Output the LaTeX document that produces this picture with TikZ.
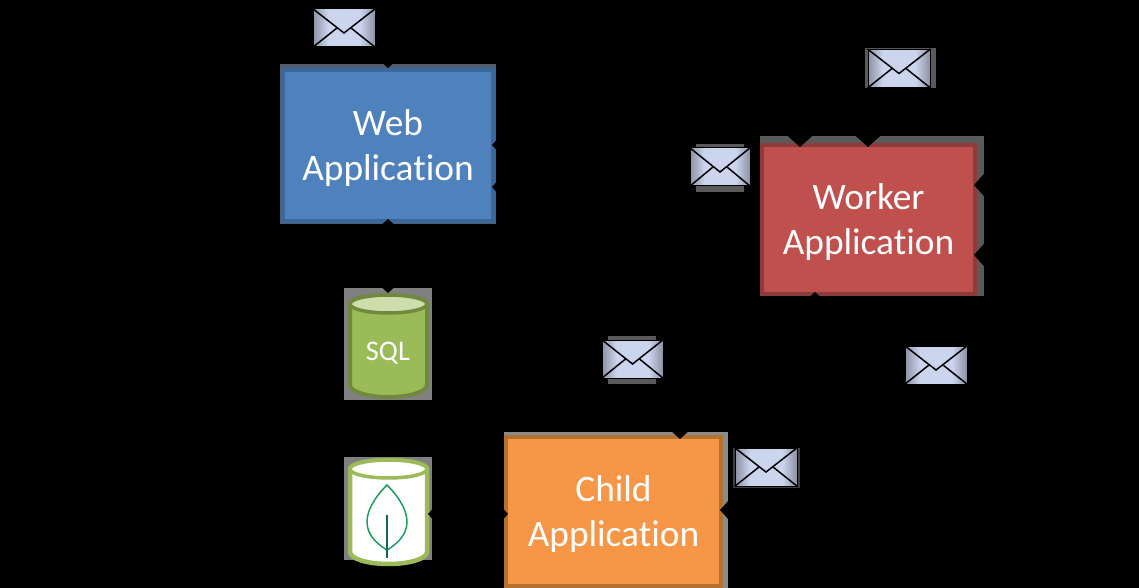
\documentclass[tikz,border=0pt]{standalone}
\usepackage{fontspec}
\setmainfont[Ligatures=NoCommon]{Carlito}
\usetikzlibrary{calc,arrows.meta}
\definecolor{halo}{HTML}{5A5A5A}
\definecolor{webfill}{HTML}{4F81BD}
\definecolor{webline}{HTML}{3A679C}
\definecolor{workfill}{HTML}{C0504D}
\definecolor{workline}{HTML}{8C3D3B}
\definecolor{childfill}{HTML}{F79646}
\definecolor{childline}{HTML}{B3722F}
\definecolor{sqlfill}{HTML}{9BBB59}
\definecolor{sqlline}{HTML}{71893F}
\definecolor{sqltop}{HTML}{CDDDAC}
\definecolor{leaf}{HTML}{1E9E62}
\definecolor{stem}{HTML}{12665A}
\definecolor{mailedge}{HTML}{8D90A4}
\definecolor{mailmid}{HTML}{CBD6EE}
\pgfdeclarehorizontalshading{mailshade}{100bp}{color(0bp)=(mailedge); color(25bp)=(mailedge); color(37bp)=(mailmid); color(63bp)=(mailmid); color(75bp)=(mailedge); color(100bp)=(mailedge)}
\newcommand{\lineone}[1]{\raisebox{-2bp}[\height][\depth]{#1}}
\newcommand{\linetwo}[1]{\raisebox{-2.5bp}[\height][\depth]{#1}}
\tikzset{
  appbox/.style={rectangle,draw=#1line,fill=#1fill,line width=4bp,inner sep=0pt,
    text=white,align=center,font=\fontsize{37.5}{45}\selectfont},
  mailbody/.style={rectangle,draw=black,line width=1bp,inner sep=0pt,shading=mailshade},
  mailfold/.style={draw=black,line width=1.5bp},
  conn/.style={draw=black,line width=2bp,-{Triangle[length=11bp,width=24bp]}},
  conntwo/.style={draw=black,line width=2bp,{Triangle[length=11bp,width=24bp]}-{Triangle[length=11bp,width=24bp]}},
}
\newcommand{\mailicon}[4]{% name, x, y, width
  \node[mailbody,minimum width=#4 bp,minimum height=38bp] (#1) at (#2,#3) {};
  \draw[mailfold] (#1.north west) -- ($(#1.center)+(0,5)$) -- (#1.north east);
  \draw[mailfold] (#1.south west) -- ($(#1.center)+(-7,0)$);
  \draw[mailfold] (#1.south east) -- ($(#1.center)+(7,0)$);
}
\begin{document}
\begin{tikzpicture}[x=1bp,y=-1bp]
\useasboundingbox (0,0) rectangle (1139,588);
\fill[black] (0,0) rectangle (1139,588);

% halos behind the shapes
\fill[halo!70!webline] (280,64) rectangle (496,224);
\fill[halo] (760,136) rectangle (984,296);
\fill[halo!70!white] (504,432) rectangle (728,588);
\fill[gray] (344,288) rectangle (432,400);
\fill[gray] (344,457) rectangle (432,560);

% application boxes
\node[appbox=web,minimum width=210bp,minimum height=151bp] (web) at (388,145.5) {\lineone{Web}\\\linetwo{Application}};
\node[appbox=work,minimum width=213bp,minimum height=149bp] (worker) at (868.5,219.5) {\lineone{Worker}\\\linetwo{Application}};
\node[appbox=child,minimum width=215bp,minimum height=149bp] (child) at (613.5,511.5) {\lineone{Child}\\\linetwo{Application}};

% SQL cylinder
\draw[draw=sqlline,fill=sqlfill,line width=4bp] (350,304) -- (350,385) arc[start angle=180,end angle=0,x radius=38.5,y radius=12] -- (427,304) arc[start angle=0,end angle=-180,x radius=38.5,y radius=9] -- cycle;
\draw[draw=sqlline,fill=sqltop,line width=3.5bp] (388.5,304) ellipse[x radius=38.5,y radius=9];
\node[text=white,font=\fontsize{28.5}{30}\selectfont,inner sep=0pt] (sql) at (388,353) {SQL};
\coordinate (sqltip) at (388,293);

% Mongo cylinder
\draw[draw=sqlfill,fill=white,line width=4.5bp] (350,469) -- (350,552) arc[start angle=180,end angle=0,x radius=38.5,y radius=12] -- (427,469) arc[start angle=0,end angle=-180,x radius=38.5,y radius=9] -- cycle;
\draw[draw=sqlfill,fill=white,line width=3.5bp] (388.5,469) ellipse[x radius=38.5,y radius=9];
\draw[leaf,line width=1.5bp] (387,485) .. controls (375,497) and (367,510) .. (367,522) .. controls (367,535) and (377,544) .. (387,550) .. controls (397,544) and (407,535) .. (407,522) .. controls (407,510) and (399,497) .. (387,485) -- cycle;
\draw[stem,line width=1.5bp] (387,515) -- (387,558);

% hidden (black on black) connectors: only their tips show on the shapes
\coordinate (webin1) at (388,68);
\coordinate (webin2) at (388,219);
\coordinate (webout1) at (492,145);
\coordinate (webout2) at (492,187);
\coordinate (workin1) at (800,147);
\coordinate (workin2) at (868,147);
\coordinate (workout1) at (974,185);
\coordinate (workout2) at (974,255);
\coordinate (workin3) at (815,292);
\coordinate (childin1) at (680,439);
\coordinate (childin2) at (720,510);
\coordinate (childin3) at (508,514);
\coordinate (mongoin) at (428,514);

\coordinate (mailA) at (344,28);
\coordinate (mailB) at (899,68.5);
\coordinate (mailC) at (720,167);
\coordinate (mailD) at (632.5,359);
\coordinate (mailE) at (766,467);
\coordinate (mailF) at (936,365);

\draw[conn] (mailA) -| (webin1);
\draw[conntwo] (sqltip) -- (webin2);
\draw[conn] (mailC) -| (600,145) -- (webout1);
\draw[conn] (mailD) |- (webout2);
\draw[conn] (mailB) -| (workin1);
\draw[conn] (mailB) -| (workin2);
\draw[conn] (mailF) |- (1010,320) |- (workout2);
\draw[conn] (1010,320) |- (workout1);
\draw[conn] (mailE) |- (815,400) -- (workin3);
\draw[conn] (mailD) -| (childin1);
\draw[conn] (mailE) |- (childin2);
\draw[conntwo] (mongoin) -- (childin3);

% message icons, on top of the connectors
\fill[halo] (865,48) rectangle (936,88);
\fill[halo] (696,144) rectangle (744,192);
\fill[halo] (608,336) rectangle (656,384);
\fill[black!75] (733,448) rectangle (800,488);
\mailicon{mailnodeA}{344}{28}{62}
\mailicon{mailnodeB}{899}{68.5}{62}
\mailicon{mailnodeC}{720}{167}{60}
\mailicon{mailnodeD}{632.5}{359}{61}
\mailicon{mailnodeE}{766}{467}{62}
\mailicon{mailnodeF}{936}{365}{62}
\end{tikzpicture}
\end{document}
